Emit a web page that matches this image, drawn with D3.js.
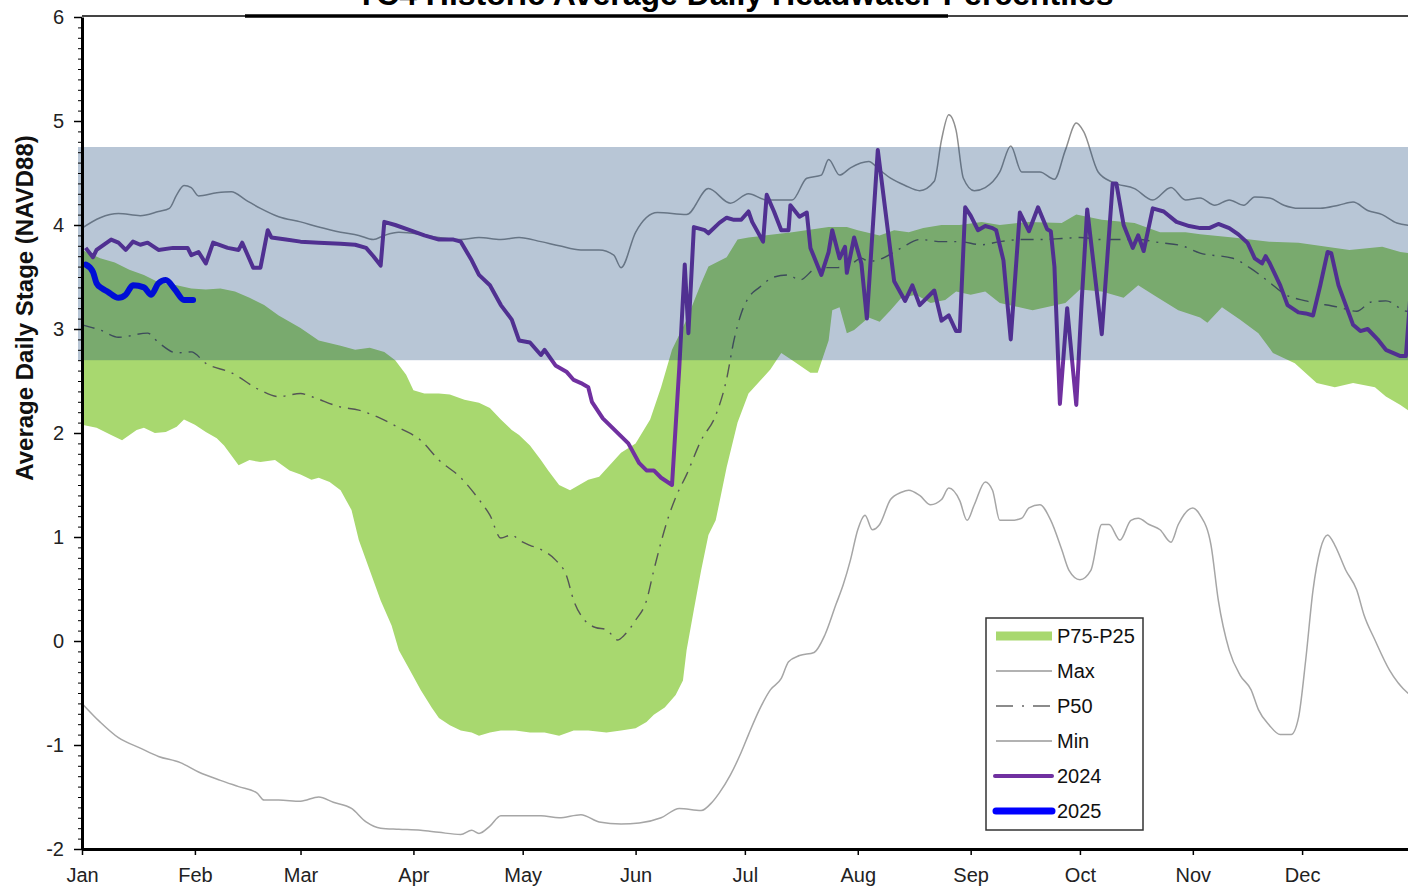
<!DOCTYPE html>
<html>
<head>
<meta charset="utf-8">
<script src="https://cdn.jsdelivr.net/npm/d3@7"></script>
<style>
    body {
        margin: 0;
        padding: 0;
        background: #fff;
    }
    svg {
        display: block;
        font-family: "Liberation Sans", Arial, sans-serif;
    }
</style>
</head>
<body>
<script>
// chart text
const title = 'TC4 Historic Average Daily Headwater Percentiles';
const yTitle = 'Average Daily Stage (NAVD88)';
const legendLabels = ['P75-P25', 'Max', 'P50', 'Min', '2024', '2025'];
const yTicks = [-2, -1, 0, 1, 2, 3, 4, 5, 6];

// shaded operating band (ft)
const band = [2.7, 4.75];

// [day of year, stage]
const maxStage = [[0,3.97],[5,4.07],[10,4.11],[16,4.09],[21,4.13],[24,4.16],[26,4.29],[28,4.38],[30,4.36],[32,4.28],
    [37,4.31],[41,4.32],[45,4.24],[49,4.16],[54,4.08],[60,4.03],[65,3.98],[71,3.93],[76,3.90],[80,3.86],[83,3.90],
    [87,3.93],[93,3.91],[98,3.88],[104,3.86],[109,3.88],[115,3.86],[120,3.88],[126,3.84],[131,3.80],[137,3.76],
    [142,3.76],[146,3.71],[148,3.59],[152,3.93],[158,4.12],[166,4.10],[172,4.35],[178,4.21],[183,4.30],[188,4.24],
    [195,4.24],[199,4.45],[203,4.48],[205,4.63],[208,4.48],[211,4.55],[216,4.61],[219,4.53],[222,4.45],[226,4.38],
    [230,4.33],[234,4.42],[236,4.82],[238,5.06],[240,4.91],[242,4.45],[245,4.33],[248,4.36],[252,4.51],[255,4.76],
    [258,4.51],[263,4.51],[267,4.44],[270,4.72],[273,4.98],[275,4.90],[279,4.51],[283,4.41],[289,4.35],[294,4.24],
    [299,4.36],[303,4.24],[307,4.26],[311,4.19],[315,4.24],[319,4.19],[322,4.27],[326,4.26],[330,4.19],[334,4.16],
    [340,4.16],[345,4.19],[349,4.22],[353,4.14],[357,4.10],[361,4.02],[366,3.99]];

const minStage = [[0,-0.60],[5,-0.78],[10,-0.93],[16,-1.03],[21,-1.11],[27,-1.17],[32,-1.26],[38,-1.34],[43,-1.40],
    [48,-1.46],[50,-1.53],[54,-1.53],[60,-1.54],[65,-1.50],[69,-1.55],[74,-1.61],[78,-1.74],[82,-1.80],[87,-1.81],
    [93,-1.82],[98,-1.84],[104,-1.86],[107,-1.82],[109,-1.85],[112,-1.78],[115,-1.68],[120,-1.68],[126,-1.68],
    [131,-1.70],[137,-1.67],[142,-1.74],[148,-1.76],[153,-1.75],[159,-1.70],[164,-1.61],[170,-1.63],[173,-1.55],
    [175,-1.46],[178,-1.29],[181,-1.07],[183,-0.90],[186,-0.66],[189,-0.47],[192,-0.36],[194,-0.20],[197,-0.14],
    [201,-0.11],[204,0.06],[207,0.35],[209,0.54],[211,0.78],[213,1.07],[215,1.21],[217,1.07],[219,1.12],[222,1.36],
    [225,1.43],[227,1.45],[230,1.40],[233,1.31],[236,1.36],[238,1.47],[241,1.35],[243,1.16],[245,1.31],[248,1.53],
    [250,1.45],[252,1.16],[255,1.16],[258,1.18],[260,1.28],[263,1.31],[266,1.16],[269,0.88],[271,0.68],[274,0.59],
    [277,0.68],[280,1.12],[282,1.12],[285,0.97],[288,1.16],[290,1.18],[293,1.12],[296,1.07],[299,0.95],[301,1.12],
    [305,1.28],[307,1.21],[310,0.92],[312,0.39],[315,-0.09],[318,-0.33],[321,-0.47],[323,-0.66],[326,-0.81],
    [329,-0.90],[332,-0.90],[334,-0.74],[336,-0.18],[338,0.49],[340,0.88],[342,1.02],[344,0.92],[347,0.68],
    [350,0.49],[352,0.25],[355,0.01],[359,-0.28],[364,-0.50],[366,-0.55]];

const p50Stage = [[0,3.04],[5,2.99],[10,2.92],[18,2.96],[21,2.87],[26,2.77],[30,2.78],[34,2.67],[41,2.58],[49,2.41],
    [54,2.35],[60,2.38],[63,2.35],[71,2.25],[76,2.22],[82,2.14],[87,2.05],[93,1.93],[98,1.74],[104,1.57],[109,1.36],
    [112,1.21],[115,0.99],[118,1.02],[120,0.97],[123,0.92],[126,0.88],[130,0.78],[133,0.63],[135,0.39],[138,0.20],
    [141,0.13],[144,0.11],[147,0.01],[149,0.06],[152,0.20],[155,0.39],[157,0.68],[161,1.19],[163,1.38],[166,1.60],
    [170,1.93],[174,2.17],[177,2.52],[179,2.89],[181,3.15],[183,3.30],[186,3.40],[190,3.50],[194,3.52],[197,3.47],
    [202,3.59],[207,3.59],[211,3.62],[214,3.68],[216,3.65],[219,3.67],[225,3.78],[230,3.86],[236,3.84],[241,3.84],
    [247,3.81],[252,3.84],[258,3.86],[263,3.86],[269,3.87],[274,3.88],[280,3.86],[285,3.86],[290,3.86],[296,3.83],
    [302,3.80],[307,3.73],[316,3.68],[321,3.58],[326,3.45],[330,3.34],[336,3.27],[345,3.21],[350,3.17],[354,3.26],
    [358,3.27],[364,3.17],[366,3.17]];

const p75Stage = [[0,3.76],[5,3.68],[9,3.64],[13,3.57],[17,3.52],[21,3.45],[26,3.42],[30,3.39],[34,3.38],[38,3.39],
    [42,3.36],[46,3.30],[50,3.23],[54,3.13],[60,3.01],[65,2.89],[71,2.84],[75,2.80],[79,2.82],[83,2.78],[86,2.70],
    [89,2.56],[91,2.41],[94,2.38],[98,2.38],[101,2.37],[105,2.32],[109,2.29],[112,2.24],[115,2.13],[118,2.03],
    [120,1.98],[123,1.88],[126,1.74],[128,1.64],[131,1.50],[134,1.45],[139,1.55],[142,1.58],[148,1.81],[152,1.90],
    [156,2.13],[159,2.44],[162,2.80],[166,3.09],[170,3.44],[172,3.60],[177,3.69],[180,3.86],[183,3.88],[195,3.93],
    [205,3.98],[210,3.98],[213,3.95],[219,3.90],[223,3.95],[227,3.93],[231,3.97],[236,4.00],[241,4.00],[247,4.03],
    [252,4.00],[260,4.03],[269,4.02],[273,4.10],[280,4.05],[289,4.02],[296,3.93],[303,3.93],[307,3.91],[316,3.88],
    [326,3.84],[334,3.83],[348,3.76],[357,3.79],[362,3.74],[366,3.72]];

const p25Stage = [[0,2.08],[4,2.05],[8,1.98],[11,1.93],[15,2.03],[17,2.05],[20,2.00],[23,2.01],[26,2.06],[28,2.13],
    [31,2.08],[34,2.01],[37,1.95],[39,1.88],[43,1.69],[46,1.74],[49,1.72],[53,1.74],[57,1.64],[60,1.60],[63,1.55],
    [65,1.57],[68,1.53],[71,1.45],[74,1.26],[76,0.97],[79,0.68],[82,0.39],[85,0.15],[87,-0.09],[90,-0.28],[93,-0.47],
    [96,-0.64],[98,-0.74],[101,-0.81],[104,-0.86],[107,-0.88],[109,-0.91],[112,-0.88],[115,-0.86],[119,-0.86],
    [123,-0.88],[127,-0.88],[131,-0.91],[135,-0.86],[139,-0.86],[144,-0.88],[148,-0.86],[152,-0.84],[155,-0.78],
    [157,-0.71],[160,-0.64],[163,-0.52],[165,-0.38],[166,-0.09],[168,0.30],[170,0.68],[172,1.02],[174,1.16],
    [177,1.67],[180,2.10],[183,2.38],[189,2.61],[192,2.77],[195,2.70],[200,2.58],[202,2.58],[205,2.89],[206,3.18],
    [208,3.21],[210,2.96],[212,2.99],[216,3.11],[219,3.07],[222,3.18],[225,3.30],[229,3.33],[233,3.25],[237,3.28],
    [240,3.36],[244,3.33],[248,3.36],[252,3.25],[261,3.18],[270,3.25],[274,3.38],[280,3.36],[286,3.30],[290,3.42],
    [295,3.31],[301,3.18],[307,3.11],[309,3.06],[313,3.21],[318,3.09],[323,2.96],[327,2.77],[333,2.67],[339,2.48],
    [344,2.44],[349,2.48],[355,2.44],[358,2.35],[362,2.27],[366,2.17]];

const stage2024 = [[1,3.78],[3,3.69],[4,3.76],[8,3.86],[10,3.83],[12,3.76],[14,3.84],[16,3.81],[18,3.83],[21,3.76],
    [25,3.78],[29,3.78],[30,3.71],[32,3.74],[34,3.63],[36,3.83],[40,3.78],[43,3.76],[44,3.83],[47,3.59],[49,3.59],
    [51,3.95],[52,3.88],[56,3.86],[60,3.84],[65,3.83],[71,3.82],[75,3.81],[78,3.78],[80,3.70],[82,3.61],[83,4.03],
    [86,4.00],[90,3.95],[94,3.90],[98,3.86],[102,3.86],[104,3.84],[107,3.66],[109,3.52],[112,3.42],[115,3.23],
    [118,3.09],[120,2.89],[123,2.87],[126,2.75],[127,2.80],[130,2.65],[133,2.59],[135,2.51],[137,2.48],[139,2.44],
    [140,2.30],[143,2.14],[150,1.90],[153,1.71],[155,1.64],[157,1.64],[159,1.57],[162,1.50],[164,2.63],[165.5,3.62],
    [166.5,2.96],[168,3.98],[171,3.95],[172,3.92],[175,4.02],[177,4.07],[179,4.05],[181,4.05],[183,4.13],[184,4.03],
    [187,3.84],[188,4.29],[190,4.13],[192,3.95],[194,3.95],[194.5,4.19],[197,4.08],[199,4.12],[200,3.78],[203,3.52],
    [205,3.74],[206,3.95],[208,3.68],[209.5,3.79],[210,3.54],[212,3.88],[214,3.63],[215.5,3.10],[218.5,4.72],
    [220,4.30],[223,3.46],[226,3.27],[228,3.42],[230,3.23],[234,3.37],[236,3.08],[238,3.13],[240,2.98],[241,2.98],
    [242.5,4.17],[244,4.09],[246,3.95],[248,3.99],[250,3.97],[251,3.95],[253,3.66],[255,2.90],[257.5,4.12],
    [260,3.94],[262.5,4.17],[265,3.96],[266,3.94],[267,3.60],[268.5,2.28],[270.5,3.20],[273,2.27],[274.5,3.28],
    [276,4.15],[280,2.95],[283,4.40],[284,4.40],[286,4.00],[288.5,3.78],[290,3.90],[291.5,3.75],[294,4.16],
    [297,4.13],[300.5,4.03],[304,3.99],[307,3.97],[309.5,3.97],[312,4.01],[315,3.97],[317.5,3.91],[320,3.83],
    [322,3.68],[324,3.63],[325,3.70],[326,3.64],[329,3.42],[331,3.23],[334,3.16],[336,3.15],[338,3.13],[340,3.42],
    [342,3.74],[343,3.73],[345,3.42],[347,3.23],[349,3.04],[351,2.98],[353,3.00],[356,2.89],[358,2.80],[362,2.74],
    [363.5,2.74],[365,3.45]];

const stage2025 = [[1,3.62],[3,3.55],[4,3.44],[5.5,3.39],[7,3.36],[10,3.30],[12,3.33],[14,3.42],[17,3.40],[19,3.33],
    [21,3.44],[23,3.47],[25.5,3.38],[28,3.28],[30.5,3.28]];

const width = 1408;
const height = 888;
const plotLeft = 82, plotRight = 1415, plotTop = 17, plotBottom = 849;

const svg = d3.create('svg')
    .attr('width', width)
    .attr('height', height)
    .attr('viewBox', [0, 0, width, height]);
document.body.appendChild(svg.node());

const t0 = Date.UTC(2024, 0, 1);
const x = d3.scaleUtc()
    .domain([new Date(t0), new Date(Date.UTC(2025, 0, 1))])
    .range([plotLeft, plotRight]);
const y = d3.scaleLinear().domain([-2, 6]).range([plotBottom, plotTop]);
const dx = d => x(new Date(t0 + d * 864e5));

const line = d3.line().x(d => dx(d[0])).y(d => y(d[1]));
const smooth = d3.line().x(d => dx(d[0])).y(d => y(d[1])).curve(d3.curveMonotoneX);

const plot = svg.append('g');

// P75-P25 envelope
const envelope = p75Stage.concat(p25Stage.slice().reverse());
plot.append('path')
    .attr('d', d3.line().x(d => dx(d[0])).y(d => y(d[1])).curve(d3.curveLinearClosed)(envelope))
    .attr('fill', '#a8d86f');

plot.append('path').attr('d', smooth(minStage))
    .attr('fill', 'none').attr('stroke', '#a6a6a6').attr('stroke-width', 1.5);
plot.append('path').attr('d', smooth(maxStage))
    .attr('fill', 'none').attr('stroke', '#8f8f8f').attr('stroke-width', 1.5);
plot.append('path').attr('d', smooth(p50Stage))
    .attr('fill', 'none').attr('stroke', '#555').attr('stroke-width', 1.4)
    .attr('stroke-dasharray', '13,7,2,7');
plot.append('path').attr('d', line(stage2024))
    .attr('fill', 'none').attr('stroke', '#7030a0').attr('stroke-width', 4)
    .attr('stroke-linejoin', 'round');
plot.append('path').attr('d', smooth(stage2025))
    .attr('fill', 'none').attr('stroke', '#0000ff').attr('stroke-width', 6)
    .attr('stroke-linecap', 'round').attr('stroke-linejoin', 'round');

// operating band overlay
plot.append('rect')
    .attr('x', plotLeft - 4)
    .attr('width', plotRight - plotLeft + 4)
    .attr('y', y(band[1]))
    .attr('height', y(band[0]) - y(band[1]))
    .attr('fill', '#00336d')
    .attr('fill-opacity', 0.28);

// axes
const yMinor = svg.append('g')
    .attr('transform', `translate(${plotLeft},0)`)
    .call(d3.axisLeft(y).tickValues(d3.range(-20, 61).map(v => v / 10)).tickSize(4).tickFormat(''));
yMinor.select('.domain').remove();
yMinor.selectAll('line').attr('stroke', '#000').attr('stroke-width', 1);

const yAxis = svg.append('g')
    .attr('transform', `translate(${plotLeft},0)`)
    .call(d3.axisLeft(y).tickValues(yTicks).tickFormat(d => String(d))
        .tickSize(8).tickSizeOuter(0).tickPadding(10));
yAxis.select('.domain').attr('stroke', '#000').attr('stroke-width', 3);
yAxis.selectAll('line').attr('stroke-width', 1.5);
yAxis.selectAll('text').attr('font-size', 20).attr('fill', '#222')
    .attr('font-family', '"Liberation Sans", Arial, sans-serif');

const xAxis = svg.append('g')
    .attr('transform', `translate(0,${plotBottom})`)
    .call(d3.axisBottom(x).ticks(d3.utcMonth.every(1)).tickFormat(d3.utcFormat('%b'))
        .tickSize(6).tickSizeOuter(0).tickPadding(13));
xAxis.select('.domain').attr('stroke', '#000').attr('stroke-width', 3);
xAxis.selectAll('line').attr('stroke-width', 1.5);
xAxis.selectAll('.tick').filter(d => d.getUTCFullYear() > 2024).remove();
xAxis.selectAll('text').attr('font-size', 20).attr('fill', '#222')
    .attr('font-family', '"Liberation Sans", Arial, sans-serif');

// top frame
svg.append('line')
    .attr('x1', plotLeft).attr('x2', width).attr('y1', plotTop - 1).attr('y2', plotTop - 1)
    .attr('stroke', '#444').attr('stroke-width', 2);
svg.append('line')
    .attr('x1', 245).attr('x2', 948).attr('y1', plotTop - 1).attr('y2', plotTop - 1)
    .attr('stroke', '#000').attr('stroke-width', 3.5);

// titles (the chart title sits partly above the page edge, as in the source image)
svg.append('text')
    .attr('x', 735).attr('y', 5)
    .attr('text-anchor', 'middle')
    .attr('font-size', 32).attr('font-weight', 'bold')
    .text(title);

svg.append('text')
    .attr('transform', 'translate(33,308) rotate(-90)')
    .attr('text-anchor', 'middle')
    .attr('font-size', 24).attr('font-weight', 'bold')
    .attr('fill', '#111')
    .text(yTitle);

// legend
const legend = svg.append('g').attr('transform', 'translate(986,618)');
legend.append('rect')
    .attr('width', 157).attr('height', 212)
    .attr('fill', '#fff').attr('stroke', '#333').attr('stroke-width', 1.5);

const rows = legend.selectAll('g.row')
    .data(legendLabels)
    .join('g')
        .classed('row', true)
        .attr('transform', (d, i) => `translate(0,${18 + i * 35})`);

rows.append('text')
    .attr('x', 71).attr('dy', '0.35em')
    .attr('font-size', 20).attr('fill', '#111')
    .text(d => d);

rows.each(function(d) {
    const g = d3.select(this);
    if (d === 'P75-P25') {
        g.append('rect').attr('x', 10).attr('y', -4.5).attr('width', 56).attr('height', 9).attr('fill', '#a8d86f');
    } else if (d === 'Max' || d === 'Min') {
        g.append('line').attr('x1', 10).attr('x2', 66).attr('stroke', '#999').attr('stroke-width', 1.3);
    } else if (d === 'P50') {
        g.append('line').attr('x1', 10).attr('x2', 66).attr('stroke', '#666').attr('stroke-width', 1.3)
            .attr('stroke-dasharray', '17,9,2,9');
    } else if (d === '2024') {
        g.append('line').attr('x1', 9).attr('x2', 66).attr('stroke', '#7030a0').attr('stroke-width', 4)
            .attr('stroke-linecap', 'round');
    } else {
        g.append('line').attr('x1', 10).attr('x2', 66).attr('stroke', '#0000ff').attr('stroke-width', 7)
            .attr('stroke-linecap', 'round');
    }
});
</script>
</body>
</html>
